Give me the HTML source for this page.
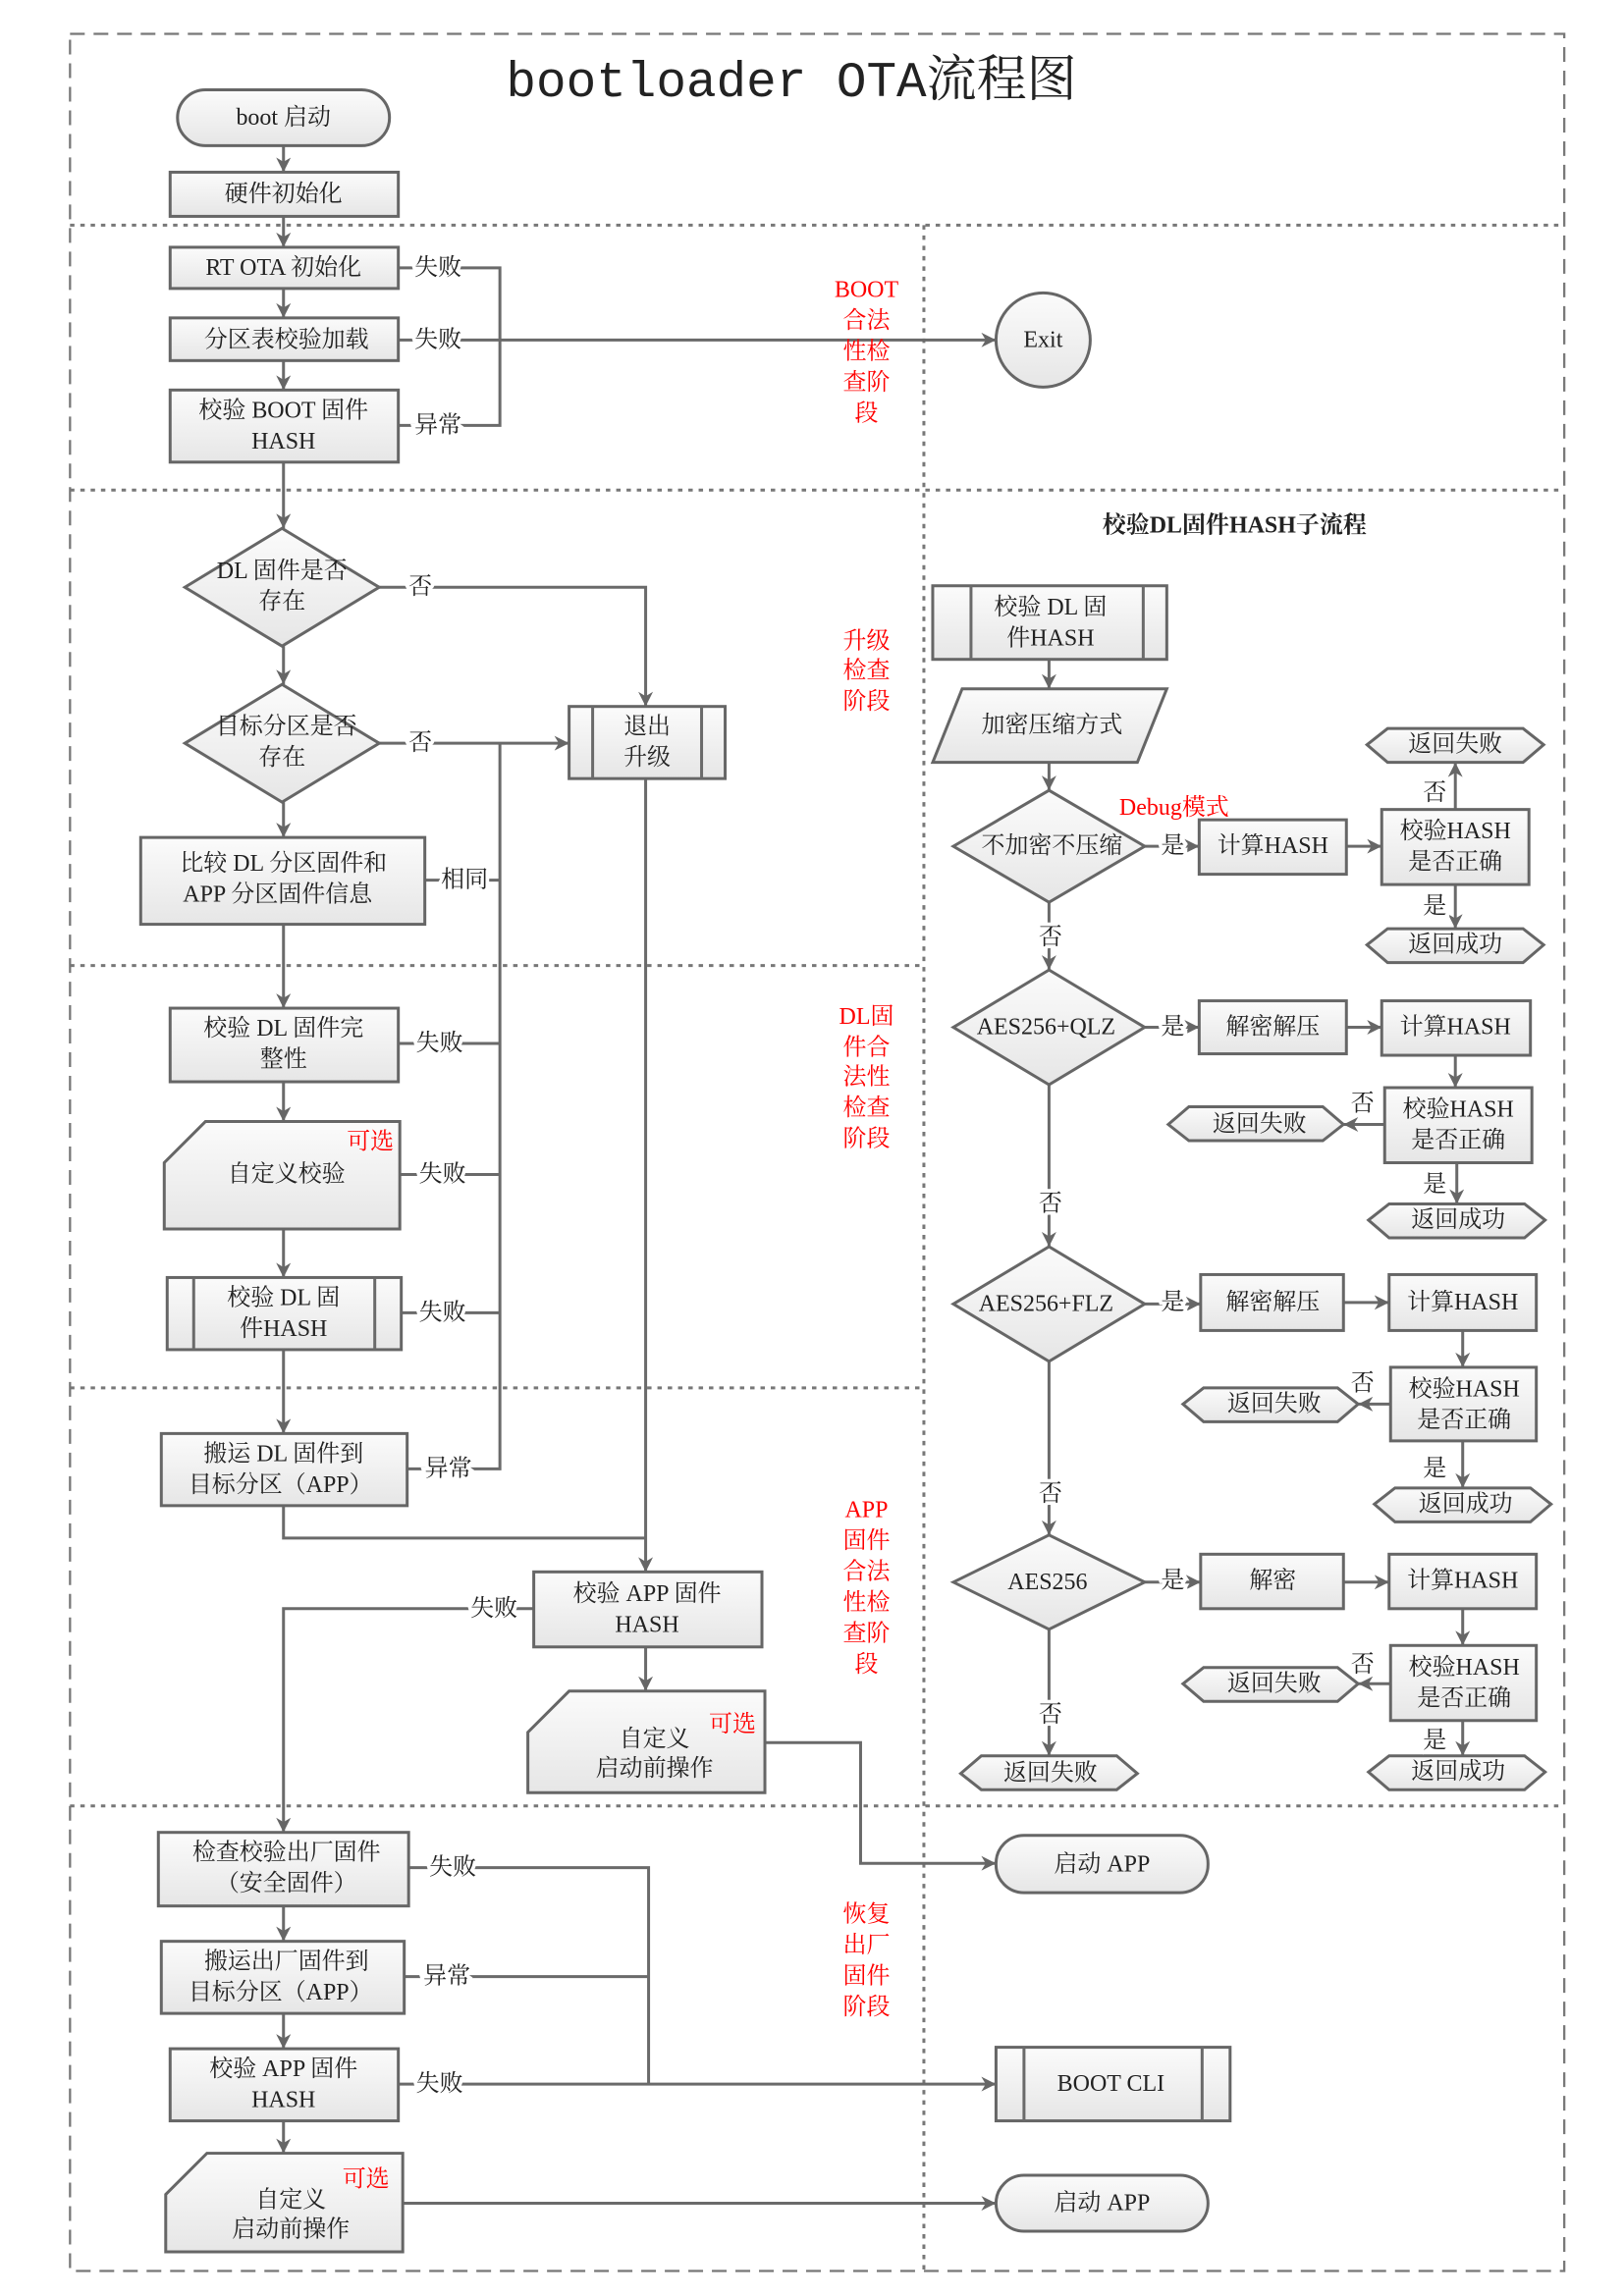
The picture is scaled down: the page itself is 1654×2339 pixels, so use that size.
<!DOCTYPE html>
<html><head><meta charset="utf-8"><style>
html,body{margin:0;padding:0;background:#fff}
svg{display:block}
.s{fill:url(#g);stroke:#666;stroke-width:2}
.l{fill:none;stroke:#6a6a6a;stroke-width:2}
.a{marker-end:url(#ar)}
text{font-family:"Liberation Serif","Noto Serif CJK SC",serif;font-size:16px;fill:#222;text-anchor:middle;dominant-baseline:central}
.lb{paint-order:stroke;stroke:#fff;stroke-width:5px}
.r{fill:#f00}
.sh{fill:#ddd}
</style></head><body>
<svg width="1654" height="2339" viewBox="0 0 1102 1560" xmlns="http://www.w3.org/2000/svg">
<defs>
<linearGradient id="g" x1="0" y1="0" x2="0" y2="1"><stop offset="0" stop-color="#fbfbfb"/><stop offset="1" stop-color="#e6e6e6"/></linearGradient>
<marker id="ar" viewBox="0 0 10 10" refX="10" refY="5" markerWidth="5" markerHeight="5" orient="auto"><path d="M0,0 L10,5 L0,10 L3,5 z" fill="#666"/></marker>
</defs>
<!-- frame -->
<rect x="47" y="23" width="1015" height="1520" fill="none" stroke="#777" stroke-width="1.5" stroke-dasharray="10 6"/>
<g stroke="#777" stroke-width="2" stroke-dasharray="3 4">
<line x1="47" y1="153" x2="1062" y2="153"/>
<line x1="47" y1="333" x2="1062" y2="333"/>
<line x1="47" y1="656" x2="627" y2="656"/>
<line x1="47" y1="943" x2="627" y2="943"/>
<line x1="47" y1="1227" x2="1062" y2="1227"/>
<line x1="627" y1="153" x2="627" y2="1543"/>
</g>
<text x="537" y="57" style="font-family:'Liberation Mono','Noto Serif CJK SC',monospace;font-size:34px">bootloader OTA流程图</text>

<!-- connectors -->
<g class="l">
<path class="a" d="M192,99V117"/><path class="a" d="M192,147V168"/><path class="a" d="M192,196V216"/><path class="a" d="M192,245V265"/><path class="a" d="M192,314V359"/>
<path d="M270,182H339V289H270"/><path class="a" d="M270,231H676"/>
<path class="a" d="M192,439V465"/><path class="a" d="M257,399H438V480"/><path class="a" d="M257,505H386"/><path class="a" d="M192,545V569"/>
<path d="M288,598H339"/><path d="M339,505V998H276"/><path d="M270,709H339"/><path d="M271,798H339"/><path d="M272,892H339"/>
<path class="a" d="M192,628V685"/><path class="a" d="M192,735V762"/><path class="a" d="M192,835V868"/><path class="a" d="M192,917V974"/>
<path d="M192,1023V1045H438"/><path class="a" d="M438,529V1068"/>
<path class="a" d="M362,1093H192V1245"/><path class="a" d="M438,1119V1149"/>
<path class="a" d="M519,1184H584V1266H676"/>
<path class="a" d="M192,1295V1319"/><path class="a" d="M192,1368V1392"/><path class="a" d="M192,1441V1463"/>
<path d="M277,1269H440V1416"/><path d="M274,1343H440"/><path class="a" d="M270,1416H676"/><path class="a" d="M273,1497H676"/>
<!-- right -->
<path class="a" d="M712,448V468"/><path class="a" d="M712,518V537"/><path class="a" d="M777,575H814"/><path class="a" d="M914,575H938"/><path class="a" d="M988,550V518"/><path class="a" d="M988,601V631"/><path class="a" d="M712,613V659"/>
<path class="a" d="M777,698H814"/><path class="a" d="M914,698H938"/><path class="a" d="M988,717V739"/><path class="a" d="M940,764H912"/><path class="a" d="M989,790V818"/><path class="a" d="M712,737V847"/>
<path class="a" d="M777,886H815"/><path class="a" d="M912,885H943"/><path class="a" d="M993,904V929"/><path class="a" d="M944,954H922"/><path class="a" d="M993,979V1011"/><path class="a" d="M712,925V1043"/>
<path class="a" d="M777,1075H815"/><path class="a" d="M912,1075H943"/><path class="a" d="M993,1093V1118"/><path class="a" d="M944,1144H922"/><path class="a" d="M993,1169V1193"/><path class="a" d="M712,1107V1193"/>
</g>

<!-- left shapes -->
<rect class="s" x="120" y="61" width="144" height="38" rx="19"/>
<text x="192" y="80">boot 启动</text>
<rect class="s" x="115" y="117" width="155" height="30"/><text x="192" y="132">硬件初始化</text>
<rect class="s" x="115" y="168" width="155" height="28"/><text x="192" y="182">RT OTA 初始化</text>
<rect class="s" x="115" y="216" width="155" height="29"/><text x="194" y="231">分区表校验加载</text>
<rect class="s" x="115" y="265" width="155" height="49"/><text x="192" y="279">校验 BOOT 固件</text><text x="192" y="300">HASH</text>
<circle class="s" cx="708" cy="231" r="32"/><text x="708" y="231">Exit</text>

<polygon class="s" points="125,399 191,359 257,399 191,439"/><text x="191" y="388">DL 固件是否</text><text x="191" y="409">存在</text>
<polygon class="s" points="125,505 191,465 257,505 191,545"/><text x="194" y="494">目标分区是否</text><text x="191" y="515">存在</text>
<rect class="s" x="386" y="480" width="106" height="49"/><path class="l" d="M402,480V529M476,480V529"/><text x="439" y="494">退出</text><text x="439" y="515">升级</text>
<rect class="s" x="95" y="569" width="193" height="59"/><text x="192" y="587">比较 DL 分区固件和</text><text x="188" y="608">APP 分区固件信息</text>

<rect class="s" x="115" y="685" width="155" height="50"/><text x="192" y="699">校验 DL 固件完</text><text x="192" y="720">整性</text>
<polygon class="s" points="139,762 271,762 271,835 111,835 111,790"/><text x="194" y="798">自定义校验</text><text class="r" x="251" y="776">可选</text>
<rect class="s" x="113" y="868" width="159" height="49"/><path class="l" d="M131,868V917M254,868V917"/><text x="192" y="882">校验 DL 固</text><text x="192" y="903">件HASH</text>
<rect class="s" x="109" y="974" width="167" height="49"/><text x="192" y="988">搬运 DL 固件到</text><text x="190" y="1009">目标分区（APP）</text>

<rect class="s" x="362" y="1068" width="155" height="51"/><text x="439" y="1083">校验 APP 固件</text><text x="439" y="1104">HASH</text>
<polygon class="s" points="386,1149 519,1149 519,1218 358,1218 358,1177"/><text x="444" y="1182">自定义</text><text x="444" y="1202">启动前操作</text><text class="r" x="497" y="1172">可选</text>
<rect class="s" x="676" y="1247" width="144" height="39" rx="19"/><text x="748" y="1267">启动 APP</text>

<rect class="s" x="107" y="1245" width="170" height="50"/><text x="194" y="1259">检查校验出厂固件</text><text x="194" y="1280">（安全固件）</text>
<rect class="s" x="109" y="1319" width="165" height="49"/><text x="194" y="1333">搬运出厂固件到</text><text x="190" y="1354">目标分区（APP）</text>
<rect class="s" x="115" y="1392" width="155" height="49"/><text x="192" y="1406">校验 APP 固件</text><text x="192" y="1427">HASH</text>
<polygon class="s" points="140,1463 273,1463 273,1530 112,1530 112,1491"/><text x="197" y="1495">自定义</text><text x="197" y="1515">启动前操作</text><text class="r" x="248" y="1481">可选</text>
<rect class="s" x="676" y="1391" width="159" height="50"/><path class="l" d="M695,1391V1441M816,1391V1441"/><text x="754" y="1416">BOOT CLI</text>
<rect class="s" x="676" y="1478" width="144" height="38" rx="19"/><text x="748" y="1497">启动 APP</text>

<!-- left labels -->
<g class="lb">
<text class="lb" x="297" y="182">失败</text><text class="lb" x="297" y="231">失败</text><text class="lb" x="297" y="289">异常</text>
<text class="lb" x="285" y="399">否</text><text class="lb" x="285" y="505">否</text><text class="lb" x="315" y="598">相同</text>
<text class="lb" x="298" y="709">失败</text><text class="lb" x="300" y="798">失败</text><text class="lb" x="300" y="892">失败</text><text class="lb" x="304" y="998">异常</text>
<text class="lb" x="335" y="1093">失败</text><text class="lb" x="307" y="1269">失败</text><text class="lb" x="303" y="1343">异常</text><text class="lb" x="298" y="1416">失败</text>
</g>
<!-- red stage labels -->
<g class="r">
<text class="r" x="588" y="197">BOOT</text><text class="r" x="588" y="218">合法</text><text class="r" x="588" y="239">性检</text><text class="r" x="588" y="260">查阶</text><text class="r" x="588" y="281">段</text>
<text class="r" x="588" y="436">升级</text><text class="r" x="588" y="456">检查</text><text class="r" x="588" y="477">阶段</text>
<text class="r" x="588" y="691">DL固</text><text class="r" x="588" y="712">件合</text><text class="r" x="588" y="732">法性</text><text class="r" x="588" y="753">检查</text><text class="r" x="588" y="774">阶段</text>
<text class="r" x="588" y="1026">APP</text><text class="r" x="588" y="1047">固件</text><text class="r" x="588" y="1068">合法</text><text class="r" x="588" y="1089">性检</text><text class="r" x="588" y="1110">查阶</text><text class="r" x="588" y="1131">段</text>
<text class="r" x="588" y="1301">恢复</text><text class="r" x="588" y="1322">出厂</text><text class="r" x="588" y="1343">固件</text><text class="r" x="588" y="1364">阶段</text>
</g>

<!-- right subflow -->
<text x="838" y="357" style="font-weight:bold">校验DL固件HASH子流程</text>
<rect class="s" x="633" y="398" width="159" height="50"/><path class="l" d="M659,398V448M776,398V448"/><text x="713" y="413">校验 DL 固</text><text x="713" y="434">件HASH</text>
<polygon class="s" points="653,468 792,468 772,518 633,518"/><text x="714" y="493">加密压缩方式</text>
<polygon class="s" points="647,575 712,537 777,575 712,613"/><text x="714" y="575">不加密不压缩</text>
<text class="r" x="797" y="549">Debug模式</text>
<rect class="s" x="814" y="557" width="100" height="37"/><text x="864" y="575">计算HASH</text>
<rect class="s" x="938" y="550" width="100" height="51"/><text x="988" y="565">校验HASH</text><text x="988" y="586">是否正确</text>
<polygon class="s" points="928,506 942,495 1034,495 1048,506 1034,518 942,518"/><text x="988" y="506">返回失败</text>
<polygon class="s" points="928,642 942,631 1034,631 1048,642 1034,654 942,654"/><text x="988" y="642">返回成功</text>

<polygon class="s" points="647,698 712,659 777,698 712,737"/><text x="710" y="698">AES256+QLZ</text>
<rect class="s" x="814" y="680" width="100" height="36"/><text x="864" y="698">解密解压</text>
<rect class="s" x="938" y="680" width="101" height="37"/><text x="988" y="698">计算HASH</text>
<rect class="s" x="940" y="739" width="100" height="51"/><text x="990" y="754">校验HASH</text><text x="990" y="775">是否正确</text>
<polygon class="s" points="793,764 807,752 898,752 912,764 898,775 807,775"/><text x="855" y="764">返回失败</text>
<polygon class="s" points="929,829 943,818 1035,818 1049,829 1035,841 943,841"/><text x="990" y="829">返回成功</text>

<polygon class="s" points="647,886 712,847 777,886 712,925"/><text x="710" y="886">AES256+FLZ</text>
<rect class="s" x="815" y="866" width="97" height="38"/><text x="864" y="885">解密解压</text>
<rect class="s" x="943" y="866" width="100" height="38"/><text x="993" y="885">计算HASH</text>
<rect class="s" x="944" y="929" width="99" height="50"/><text x="994" y="944">校验HASH</text><text x="994" y="965">是否正确</text>
<polygon class="s" points="803,954 817,943 908,943 922,954 908,966 817,966"/><text x="865" y="954">返回失败</text>
<polygon class="s" points="933,1022 947,1011 1039,1011 1053,1022 1039,1034 947,1034"/><text x="995" y="1022">返回成功</text>

<polygon class="s" points="647,1075 712,1043 777,1075 712,1107"/><text x="711" y="1075">AES256</text>
<rect class="s" x="815" y="1056" width="97" height="37"/><text x="864" y="1074">解密</text>
<rect class="s" x="943" y="1056" width="100" height="37"/><text x="993" y="1074">计算HASH</text>
<rect class="s" x="944" y="1118" width="99" height="51"/><text x="994" y="1133">校验HASH</text><text x="994" y="1154">是否正确</text>
<polygon class="s" points="803,1144 817,1133 908,1133 922,1144 908,1156 817,1156"/><text x="865" y="1144">返回失败</text>
<polygon class="s" points="929,1204 943,1193 1035,1193 1049,1204 1035,1216 943,1216"/><text x="990" y="1204">返回成功</text>
<polygon class="s" points="652,1205 666,1193 758,1193 772,1205 758,1216 666,1216"/><text x="713" y="1205">返回失败</text>

<g>
<text class="lb" x="796" y="575">是</text><text class="lb" x="974" y="539">否</text><text class="lb" x="974" y="616">是</text><text class="lb" x="713" y="637">否</text>
<text class="lb" x="796" y="698">是</text><text class="lb" x="925" y="750">否</text><text class="lb" x="974" y="805">是</text><text class="lb" x="713" y="818">否</text>
<text class="lb" x="796" y="885">是</text><text class="lb" x="925" y="940">否</text><text class="lb" x="974" y="998">是</text><text class="lb" x="713" y="1015">否</text>
<text class="lb" x="796" y="1074">是</text><text class="lb" x="925" y="1131">否</text><text class="lb" x="974" y="1183">是</text><text class="lb" x="713" y="1165">否</text>
</g>
</svg>
</body></html>
